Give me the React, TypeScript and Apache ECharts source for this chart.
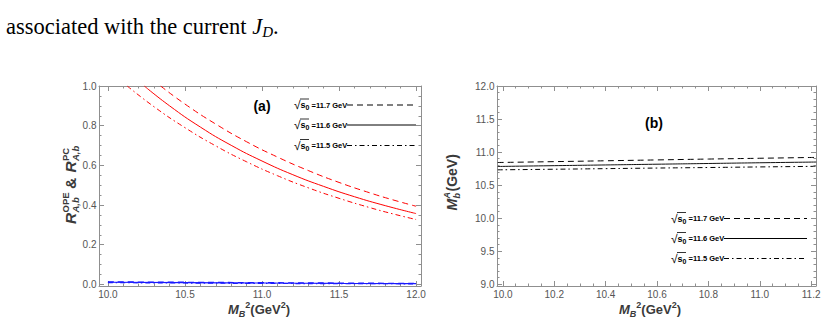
import React, { useEffect, useRef } from 'react';
import * as echarts from 'echarts';

// ---------- Panel (a): ratio curves ----------
const aX_11_7 = [10.342, 10.5, 10.7, 10.9, 11.1, 11.3, 11.5, 11.7, 11.85, 12.0];
const aY_11_7 = [1.0, 0.909, 0.808, 0.719, 0.642, 0.574, 0.514, 0.4615, 0.426, 0.394];
const aX_11_6 = [10.236, 10.4, 10.6, 10.8, 11.0, 11.2, 11.4, 11.6, 11.8, 12.0];
const aY_11_6 = [1.0, 0.9, 0.793, 0.701, 0.622, 0.553, 0.494, 0.442, 0.397, 0.357];
const aX_11_5 = [10.125, 10.3, 10.5, 10.7, 10.9, 11.1, 11.3, 11.5, 11.7, 11.85, 12.0];
const aY_11_5 = [1.0, 0.895, 0.79, 0.698, 0.618, 0.548, 0.487, 0.434, 0.387, 0.3555, 0.327];
// pole-contribution ratio (blue, near zero)
const aXBlue = [10.0, 10.5, 11.0, 11.5, 12.0];
const aYBlue_11_7 = [0.013, 0.011, 0.009, 0.007, 0.005];
const aYBlue_11_6 = [0.011, 0.009, 0.007, 0.005, 0.004];
const aYBlue_11_5 = [0.009, 0.007, 0.005, 0.004, 0.003];

// ---------- Panel (b): mass ----------
const bX = [9.98, 10.2, 10.4, 10.6, 10.8, 11.0, 11.22];
const bY_11_7 = [10.843, 10.856, 10.869, 10.882, 10.895, 10.907, 10.92];
const bY_11_6 = [10.783, 10.795, 10.806, 10.817, 10.828, 10.839, 10.85];
const bY_11_5 = [10.732, 10.741, 10.75, 10.759, 10.767, 10.776, 10.785];

// ---------- tick labels ----------
const aXTicks = [10.0, 10.5, 11.0, 11.5, 12.0];
const aYTicks = [0.0, 0.2, 0.4, 0.6, 0.8, 1.0];
const bXTicks = [10.0, 10.2, 10.4, 10.6, 10.8, 11.0, 11.2];
const bYTicks = [9.0, 9.5, 10.0, 10.5, 11.0, 11.5, 12.0];
const legendLabels = ['11.7', '11.6', '11.5'];

const SANS = 'Liberation Sans, Arial, sans-serif';
const SERIF = 'Liberation Serif, Times New Roman, serif';
const FRAME = '#8f8f8f';
const LABEL = '#555555';
const TITLE = '#3a3a3a';
const DASH = [6, 4];
const DASHDOT = [5, 3, 1.5, 3];

function minorsOf(majors: number[], sub: number, lo: number, hi: number) {
  const step = (majors[1] - majors[0]) / sub;
  const out: number[] = [];
  for (let v = majors[0] - step * sub; v <= majors[majors.length - 1] + step * sub + 1e-9; v += step) {
    const r = Math.round(v * 1000) / 1000;
    if (r >= lo && r <= hi) out.push(r);
  }
  return out;
}

function axes(dir: 'x' | 'y', grid: number, min: number, max: number, majors: number[], minors: number[]) {
  const first = dir === 'x' ? 'bottom' : 'left';
  const second = dir === 'x' ? 'top' : 'right';
  const base = { gridIndex: grid, type: 'value', min, max, splitLine: { show: false } };
  const mk = (position: string, major: boolean, labels: boolean) => ({
    ...base,
    position,
    axisLine: { show: major, onZero: false, lineStyle: { color: FRAME, width: 1 } },
    axisTick: {
      show: true,
      inside: true,
      length: major ? 5 : 2.5,
      customValues: major ? majors : minors,
      lineStyle: { color: FRAME, width: 1 },
    },
    axisLabel: labels
      ? {
          show: true,
          customValues: majors,
          formatter: (v: number) => v.toFixed(1),
          color: LABEL,
          fontSize: 10,
          fontFamily: SANS,
          margin: dir === 'x' ? 3 : 2.5,
        }
      : { show: false },
  });
  return [mk(first, true, true), mk(first, false, false), mk(second, true, false), mk(second, false, false)];
}

function zip(xs: number[], ys: number[]) {
  return xs.map((x, i) => [x, ys[i]]);
}

function line(xi: number, data: number[][], color: string, type: any, width = 1) {
  return {
    type: 'line',
    xAxisIndex: xi,
    yAxisIndex: xi,
    data,
    symbol: 'none',
    smooth: true,
    clip: true,
    lineStyle: { color, width, type },
  };
}

function legendRow(x0: number, y: number, label: string, dash: any, xEnd: number) {
  return [
    {
      type: 'text',
      x: x0,
      y,
      style: {
        text: `{r|√}{s|s}{z|0}{t| =${label} GeV}`,
        rich: {
          r: { fontSize: 12, fontFamily: SANS, lineHeight: 12, fill: '#000' },
          s: { fontSize: 9, fontWeight: 'bold', fontFamily: SANS, lineHeight: 12, fill: '#000' },
          z: { fontSize: 7, fontWeight: 'bold', fontFamily: SANS, lineHeight: 8, verticalAlign: 'bottom', fill: '#000' },
          t: { fontSize: 7.5, fontWeight: 'bold', fontFamily: SANS, lineHeight: 12, fill: '#000' },
        },
        align: 'left',
        verticalAlign: 'middle',
      },
    },
    {
      type: 'line',
      shape: { x1: x0 + 6, y1: y - 6, x2: x0 + 15, y2: y - 6 },
      style: { stroke: '#000', lineWidth: 0.8 },
    },
    {
      type: 'line',
      shape: { x1: x0 + 53, y1: y, x2: xEnd, y2: y },
      style: { stroke: '#000', lineWidth: 1, lineDash: dash },
    },
  ];
}

function t(x: number, y: number, text: string, size: number, italic = false, extra: any = {}) {
  return {
    type: 'text',
    x,
    y,
    style: {
      text,
      fontSize: size,
      fontWeight: 'bold',
      fontStyle: italic ? 'italic' : 'normal',
      fontFamily: SANS,
      fill: TITLE,
      align: 'left',
      verticalAlign: 'middle',
      ...extra,
    },
  };
}

function xTitle(cx: number, cy: number) {
  return {
    type: 'text',
    x: cx,
    y: cy,
    style: {
      text: '{m|M}{b|B}{p|2}{n|(GeV}{p|2}{n|)}',
      align: 'center',
      verticalAlign: 'middle',
      rich: {
        m: { fontSize: 13, fontWeight: 'bold', fontStyle: 'italic', fontFamily: SANS, lineHeight: 18, fill: TITLE },
        b: { fontSize: 9, fontWeight: 'bold', fontStyle: 'italic', fontFamily: SANS, lineHeight: 9, verticalAlign: 'bottom', fill: TITLE },
        p: { fontSize: 9, fontWeight: 'bold', fontFamily: SANS, lineHeight: 9, verticalAlign: 'top', fill: TITLE },
        n: { fontSize: 13, fontWeight: 'bold', fontFamily: SANS, lineHeight: 18, fill: TITLE },
      },
    },
  };
}

export default function App() {
  const ref = useRef<HTMLDivElement>(null);
  useEffect(() => {
    if (!ref.current) return;
    const chart = echarts.init(ref.current, undefined, { renderer: 'svg' });

    const aXMin = 9.942, aXMax = 12.032, aYMin = -0.008, aYMax = 1.0;
    const bXMin = 9.977, bXMax = 11.219, bYMin = 8.975, bYMax = 12.0;

    const xAxis = [
      ...axes('x', 0, aXMin, aXMax, aXTicks, minorsOf(aXTicks, 5, aXMin, aXMax)),
      ...axes('x', 1, bXMin, bXMax, bXTicks, minorsOf(bXTicks, 4, bXMin, bXMax)),
    ];
    const yAxis = [
      ...axes('y', 0, aYMin, aYMax, aYTicks, minorsOf(aYTicks, 4, aYMin, aYMax)),
      ...axes('y', 1, bYMin, bYMax, bYTicks, minorsOf(bYTicks, 5, bYMin, bYMax)),
    ];

    const RED = '#ff0000';
    const BLUE = '#1a1aff';
    const series = [
      line(0, zip(aXBlue, aYBlue_11_7), BLUE, DASH, 1.2),
      line(0, zip(aXBlue, aYBlue_11_6), BLUE, 'solid', 1.2),
      line(0, zip(aXBlue, aYBlue_11_5), BLUE, DASHDOT, 1.2),
      line(0, zip(aX_11_7, aY_11_7), RED, DASH),
      line(0, zip(aX_11_6, aY_11_6), RED, 'solid'),
      line(0, zip(aX_11_5, aY_11_5), RED, DASHDOT),
      line(4, zip(bX, bY_11_7), '#000', DASH),
      line(4, zip(bX, bY_11_6), '#111', 'solid'),
      line(4, zip(bX, bY_11_5), '#000', DASHDOT),
    ];

    const graphic: any[] = [
      {
        type: 'text',
        x: 6,
        y: 26,
        style: {
          text: '{n|associated with the current }{j|J}{d|D}{n|.}',
          align: 'left',
          verticalAlign: 'middle',
          rich: {
            n: { fontFamily: SERIF, fontSize: 22.5, lineHeight: 26, fill: '#000' },
            j: { fontFamily: SERIF, fontSize: 22.5, fontStyle: 'italic', lineHeight: 26, fill: '#000' },
            d: { fontFamily: SERIF, fontSize: 15, fontStyle: 'italic', lineHeight: 15, verticalAlign: 'bottom', fill: '#000' },
          },
        },
      },
      {
        type: 'text', x: 262, y: 106,
        style: { text: '(a)', fontSize: 14, fontWeight: 'bold', fontFamily: SANS, fill: '#000', align: 'center', verticalAlign: 'middle' },
      },
      {
        type: 'text', x: 654, y: 123,
        style: { text: '(b)', fontSize: 14, fontWeight: 'bold', fontFamily: SANS, fill: '#000', align: 'center', verticalAlign: 'middle' },
      },
      ...legendRow(294, 105, legendLabels[0], DASH, 416),
      ...legendRow(294, 125, legendLabels[1], null, 416),
      ...legendRow(294, 145.5, legendLabels[2], DASHDOT, 416),
      ...legendRow(671, 218.5, legendLabels[0], DASH, 807),
      ...legendRow(671, 238.5, legendLabels[1], null, 807),
      ...legendRow(671, 258.5, legendLabels[2], DASHDOT, 807),
      xTitle(259, 309),
      xTitle(650, 309),
      {
        type: 'group',
        x: 70,
        y: 184,
        rotation: Math.PI / 2,
        children: [
          t(-40, 0, 'R', 15.5, true),
          t(-28.5, -5, 'OPE', 9.5),
          t(-28.5, 5, 'A,b', 9.5, true),
          t(-5, 0, '&', 15.5),
          t(11.5, 0, 'R', 15.5, true),
          t(23, -5, 'PC', 9.5),
          t(23, 5, 'A,b', 9.5, true),
        ],
      },
      {
        type: 'group',
        x: 452,
        y: 183,
        rotation: Math.PI / 2,
        children: [
          t(-27.5, 0, 'M', 14, true),
          t(-15.5, -5, 'A', 9, true),
          t(-15.5, 4.5, 'b', 9, true),
          t(-8.5, 0, '(GeV)', 14),
        ],
      },
    ];

    chart.setOption({
      animation: false,
      backgroundColor: '#fff',
      grid: [
        { left: 99, top: 86, width: 322, height: 200 },
        { left: 497, top: 86, width: 319, height: 200 },
      ],
      xAxis,
      yAxis,
      series,
      graphic,
    });
    return () => chart.dispose();
  }, []);
  return <div ref={ref} style={{ position: 'absolute', left: 0, top: 0, width: 825, height: 329 }} />;
}
